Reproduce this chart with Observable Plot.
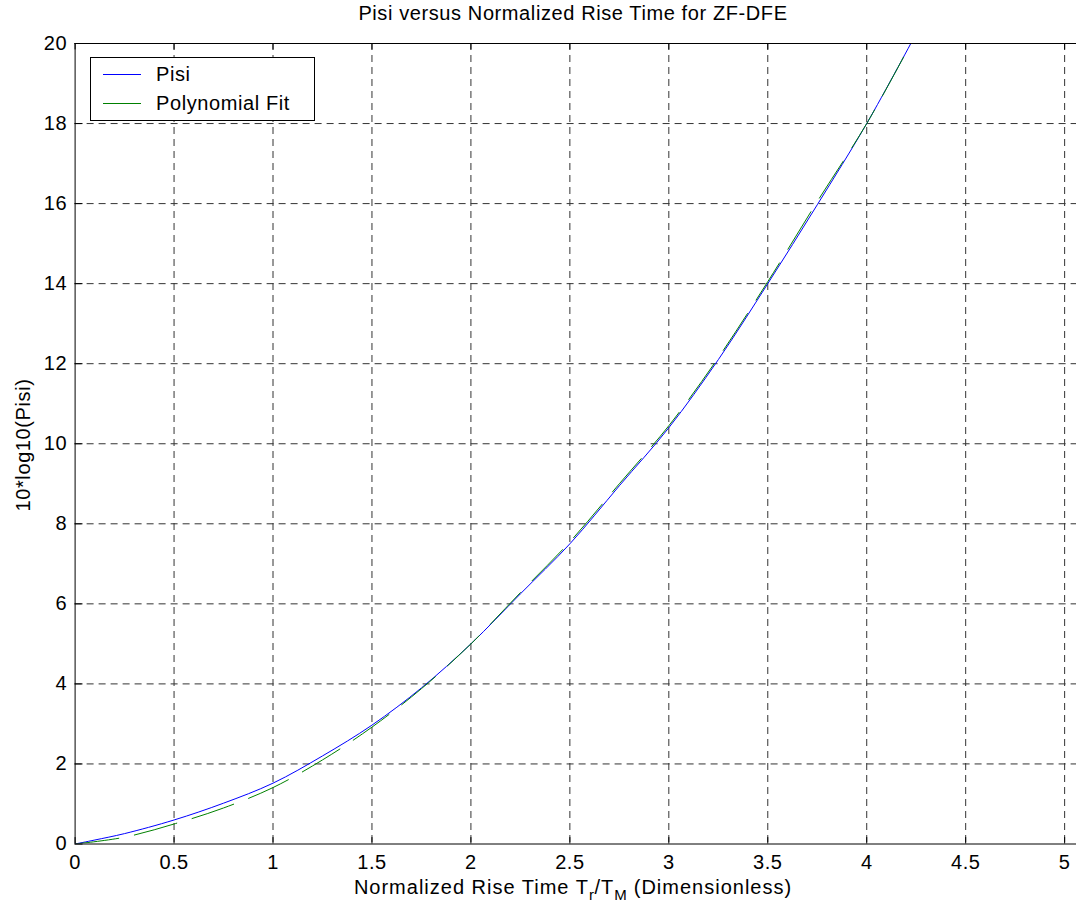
<!DOCTYPE html>
<html><head><meta charset="utf-8">
<script src="https://cdn.jsdelivr.net/npm/d3@7"></script>
<script src="https://cdn.jsdelivr.net/npm/@observablehq/plot@0.6"></script>
<style>
body{margin:0;background:#fff;}
#wrap{position:relative;width:1076px;height:907px;overflow:hidden;font-family:"Liberation Sans",Arial,sans-serif;color:#000;}
.txt{position:absolute;font-size:20px;letter-spacing:0.6px;white-space:nowrap;line-height:20px;}
#title{left:0;width:1146px;top:3px;text-align:center;}
#xlabel{left:0;width:1146px;top:877px;text-align:center;letter-spacing:1px;}
#xlabel sub{font-size:15px;vertical-align:-6px;line-height:0;letter-spacing:0.5px;}
#ylabel{left:23px;top:445px;transform:translate(-50%,-50%) rotate(-90deg);}
#legend{position:absolute;left:90px;top:57px;width:223px;height:62px;border:1px solid #000;background:#fff;}
.lgline{position:absolute;left:12px;width:38px;height:1px;}
.lgtext{left:65px;}
</style></head><body>
<div id="wrap">
  <div id="plot"></div>
  <div id="title" class="txt">Pisi versus Normalized Rise Time for ZF-DFE</div>
  <div id="xlabel" class="txt">Normalized Rise Time T<sub>r</sub>/T<sub>M</sub> (Dimensionless)</div>
  <div id="ylabel" class="txt">10*log10(Pisi)</div>
  <div id="legend">
    <div class="lgline" style="top:16px;background:#0000ff"></div>
    <div class="txt lgtext" style="top:6px">Pisi</div>
    <div class="lgline" style="top:45px;background:#008000"></div>
    <div class="txt lgtext" style="top:35px">Polynomial Fit</div>
  </div>
</div>
<script>
// Normalized rise time samples (Tr/TM)
const tPisi = [0, 0.1, 0.25, 0.5, 0.75, 1.0, 1.25, 1.5, 1.75, 2.0, 2.25, 2.5, 2.75, 3.0, 3.25, 3.5, 3.75, 4.0, 4.25];
// 10*log10(Pisi)
const pisi  = [0, 0.1, 0.26, 0.6, 1.02, 1.52, 2.2, 2.97, 3.9, 5.0, 6.25, 7.5, 8.95, 10.4, 12.1, 14.0, 15.97, 18.0, 20.25];
// Polynomial fit
const tFit = [0, 0.25, 0.5, 0.75, 1.0, 1.25, 1.5, 1.75, 2.0, 2.25, 2.5, 2.75, 3.0, 3.25, 3.5, 3.75, 4.0, 4.25];
const fit  = [0, 0.17, 0.5, 0.9, 1.41, 2.1, 2.92, 3.88, 5.0, 6.28, 7.55, 9.0, 10.45, 12.15, 14.05, 16.05, 18.0, 20.25];
// Axis ticks
const xTicks = [0, 0.5, 1, 1.5, 2, 2.5, 3, 3.5, 4, 4.5, 5];
const yTicks = [0, 2, 4, 6, 8, 10, 12, 14, 16, 18, 20];

const pisiData = tPisi.map((t, i) => ({t, v: pisi[i]}));
const fitData = tFit.map((t, i) => ({t, v: fit[i]}));

const chart = Plot.plot({
  width: 1076, height: 907,
  marginLeft: 74.6, marginRight: 0, marginTop: 43, marginBottom: 63.5,
  style: {fontFamily: "Liberation Sans, Arial, sans-serif", fontSize: "20px", letterSpacing: "0.5px", background: "white", color: "#000"},
  x: {domain: [0, 5.06]},
  y: {domain: [0, 20]},
  marks: [
    Plot.ruleX(xTicks.slice(1), {stroke: "#333", strokeWidth: 1, strokeDasharray: "7,5"}),
    Plot.ruleY(yTicks.slice(1, -1), {stroke: "#333", strokeWidth: 1, strokeDasharray: "7,5"}),
    Plot.ruleX(xTicks, {y1: 0, y2: 0.16, stroke: "#000"}),
    Plot.ruleX(xTicks, {y1: 19.84, y2: 20, stroke: "#000"}),
    Plot.ruleY(yTicks, {x1: 0, x2: 0.04, stroke: "#000"}),
    Plot.line(pisiData, {x: "t", y: "v", stroke: "#0000ff", strokeWidth: 1, curve: "catmull-rom", clip: true}),
    Plot.line(fitData, {x: "t", y: "v", stroke: "#008000", strokeWidth: 1, strokeDasharray: "44,16", curve: "catmull-rom", clip: true}),
    Plot.ruleX([0], {stroke: "#000"}),
    Plot.ruleY([0, 20], {stroke: "#000"}),
    Plot.axisX({ticks: xTicks, tickSize: 0, tickPadding: 11, label: null, tickFormat: d => String(d)}),
    Plot.axisY({ticks: yTicks, tickSize: 0, tickPadding: 8, label: null})
  ]
});
document.getElementById("plot").appendChild(chart);
</script>
</body></html>
